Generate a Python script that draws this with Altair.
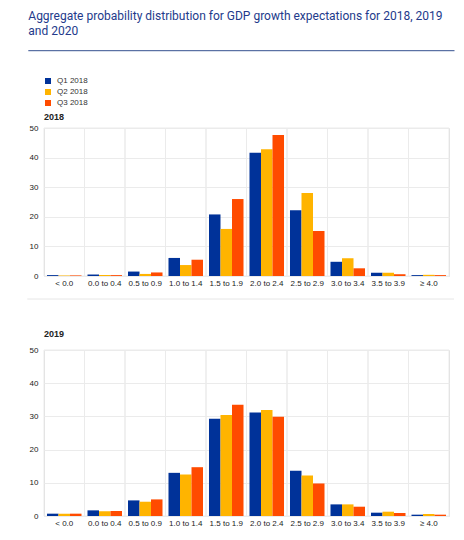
import altair as alt
import pandas as pd

categories = ["< 0.0", "0.0 to 0.4", "0.5 to 0.9", "1.0 to 1.4", "1.5 to 1.9",
              "2.0 to 2.4", "2.5 to 2.9", "3.0 to 3.4", "3.5 to 3.9", "≥ 4.0"]
series = ["Q1 2018", "Q2 2018", "Q3 2018"]
colors = ["#003299", "#ffb400", "#ff4b00"]

q1_2018 = [0.3, 0.5, 1.5, 6.1, 20.8, 41.6, 22.2, 4.8, 1.1, 0.3]
q2_2018 = [0.2, 0.3, 0.7, 3.7, 15.9, 42.8, 28.0, 6.0, 1.1, 0.4]
q3_2018 = [0.2, 0.3, 1.2, 5.5, 26.0, 47.6, 15.2, 2.6, 0.6, 0.3]

q1_2019 = [0.7, 1.7, 4.7, 13.0, 29.3, 31.2, 13.6, 3.5, 1.0, 0.4]
q2_2019 = [0.7, 1.4, 4.3, 12.5, 30.4, 31.9, 12.2, 3.5, 1.3, 0.6]
q3_2019 = [0.7, 1.5, 5.0, 14.7, 33.5, 29.9, 9.8, 2.8, 0.9, 0.4]

title_line1 = "Aggregate probability distribution for GDP growth expectations for 2018, 2019"
title_line2 = "and 2020"
y_ticks = [0, 10, 20, 30, 40, 50]

FONT = "Liberation Sans"
TITLE_FONT = "Roboto"
TITLE_SIZE = 12.0
GRID = "#ebebeb"
LABEL = "#222222"
W = 405


def long_df(vals_list):
    rows = []
    for s, vals in zip(series, vals_list):
        for c, v in zip(categories, vals):
            rows.append({"cat": c, "series": s, "value": v})
    return pd.DataFrame(rows)


def text_layer(txt, dx, dy, **kw):
    return alt.Chart(pd.DataFrame({"t": [txt]})).mark_text(
        align="left", baseline="alphabetic", **kw
    ).encode(x=alt.value(dx), y=alt.value(dy), text="t:N")


def panel(df, label, h, label_dy, first):
    xenc = alt.X("cat:N", sort=categories,
                 scale=alt.Scale(paddingInner=0, paddingOuter=0),
                 axis=alt.Axis(title=None, labelAngle=0, ticks=False, domain=False,
                               grid=False, labelFontSize=8, labelColor=LABEL,
                               labelFont=FONT, labelPadding=3.5))
    cells = alt.Chart(pd.DataFrame({"cat": categories})).mark_rect(
        fill=None, stroke=GRID, strokeWidth=1
    ).encode(x=xenc, y=alt.value(0), y2=alt.value(h))
    bars = alt.Chart(df).mark_bar().encode(
        x=xenc,
        xOffset=alt.XOffset("series:N", sort=series,
                            scale=alt.Scale(paddingInner=0, paddingOuter=0.26)),
        y=alt.Y("value:Q", scale=alt.Scale(domain=[0, 50], nice=False),
                axis=alt.Axis(title=None, values=y_ticks, ticks=False, domain=False,
                              grid=True, gridColor=GRID, labelFontSize=8,
                              labelColor=LABEL, labelFont=FONT, labelPadding=6)),
        color=alt.Color("series:N", sort=series,
                        scale=alt.Scale(domain=series, range=colors),
                        legend=alt.Legend(title=None, orient="none", legendX=0,
                                          legendY=-51, symbolType="square",
                                          symbolSize=36, symbolStrokeWidth=0,
                                          labelFontSize=8, labelFont=FONT,
                                          labelColor="#333333", rowPadding=3,
                                          labelOffset=5)),
    )
    head = text_layer(label, 0, label_dy, fontSize=9, fontWeight="bold",
                      font=FONT, color="#222222")
    layers = [cells, bars, head]
    if first:
        sep = alt.Chart(pd.DataFrame({"a": [0]})).mark_rule(
            color="#e6e6e6", strokeWidth=1
        ).encode(x=alt.value(-16.7), x2=alt.value(W + 5), y=alt.value(h + 23))
        t1 = text_layer(title_line1, -15.7, -108, fontSize=TITLE_SIZE, font=TITLE_FONT,
                        color="#233a8b")
        t2 = text_layer(title_line2, -15.7, -93, fontSize=TITLE_SIZE, font=TITLE_FONT,
                        color="#233a8b")
        hr = alt.Chart(pd.DataFrame({"a": [0]})).mark_rule(
            color="#34508f", strokeWidth=1
        ).encode(x=alt.value(-15.7), x2=alt.value(W + 5.5), y=alt.value(-77.3))
        layers += [sep, t1, t2, hr]
    return alt.layer(*layers).properties(width=W, height=h)


p1 = panel(long_df([q1_2018, q2_2018, q3_2018]), "2018", 148, -8, True)
p2 = panel(long_df([q1_2019, q2_2019, q3_2019]), "2019", 166, -13.3, False)

chart = alt.vconcat(p1, p2, spacing=74, bounds="flush").properties(
    padding={"left": 18, "top": 1, "right": 0, "bottom": 0}
).configure_view(stroke=GRID).configure(background="white")

chart.save("out.html", embed_options={"renderer": "svg", "actions": False})
